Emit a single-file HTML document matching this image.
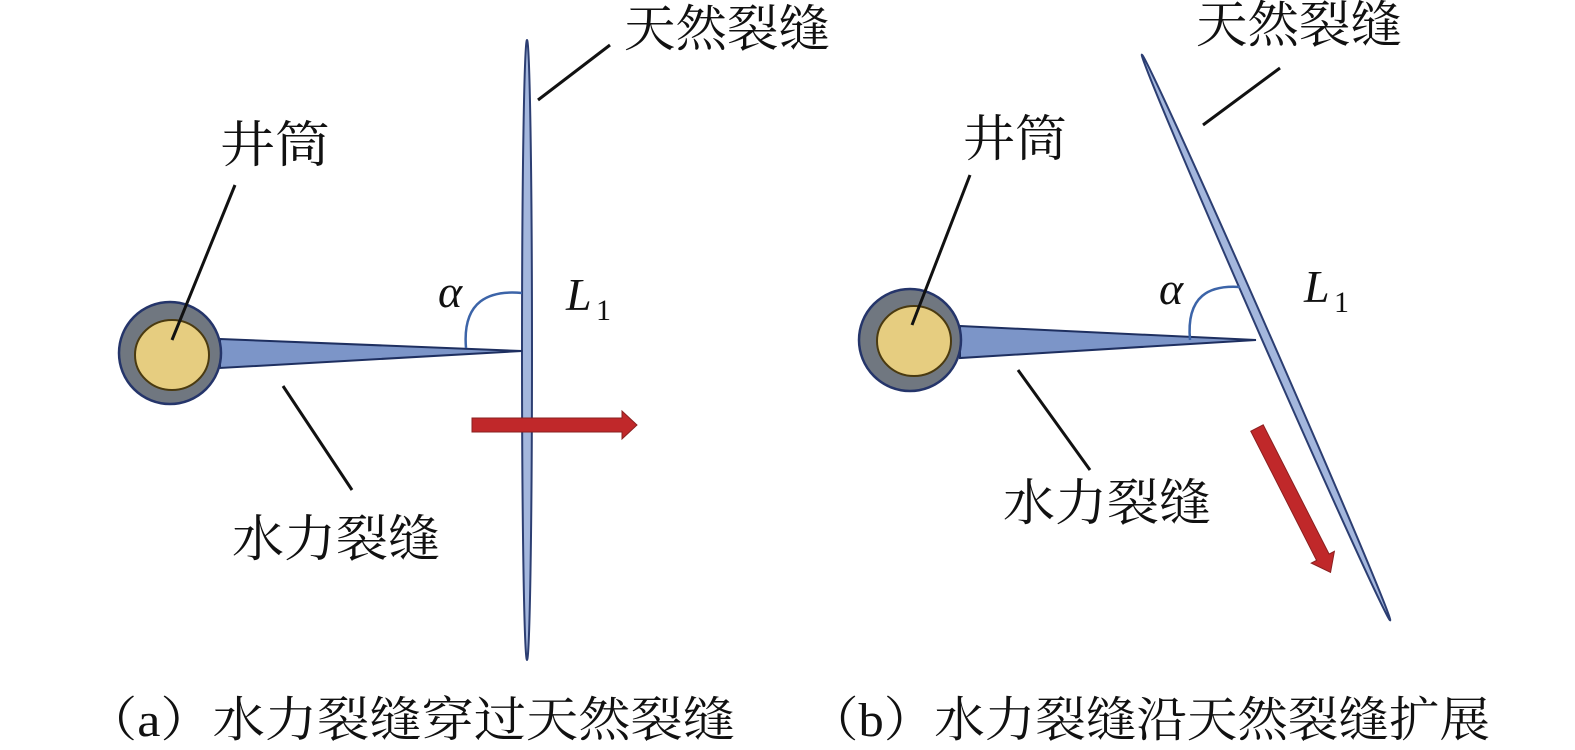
<!DOCTYPE html>
<html><head><meta charset="utf-8"><style>
html,body{margin:0;padding:0;background:#fff;}
svg{display:block}
text{font-family:"Liberation Serif","Noto Serif CJK SC","Noto Sans CJK SC",serif;fill:#111}
</style></head><body>
<svg width="1575" height="750" viewBox="0 0 1575 750" xmlns="http://www.w3.org/2000/svg">
<!-- Panel a -->
<ellipse cx="527" cy="350" rx="5" ry="310" fill="#a4b7dd" stroke="#2c3e72" stroke-width="2"/>
<polygon points="220,339 522,351 220,368" fill="#7c95c8" stroke="#1e2f60" stroke-width="2"/>
<circle cx="170" cy="353" r="51" fill="#707780" stroke="#25356a" stroke-width="2.5"/>
<ellipse cx="172" cy="355" rx="37" ry="35" fill="#e6cd80" stroke="#4a3a10" stroke-width="2"/>
<path d="M466,348 C462,300 490,290 522,293" fill="none" stroke="#3c64a8" stroke-width="2.5"/>
<polygon points="472,418 622,418 622,411 637,425 622,439 622,432 472,432" fill="#c0282a" stroke="#8a2020" stroke-width="1"/>
<line x1="235" y1="185" x2="172" y2="340" stroke="#111" stroke-width="3"/>
<line x1="538" y1="100" x2="610" y2="45" stroke="#111" stroke-width="3"/>
<line x1="283" y1="386" x2="352" y2="490" stroke="#111" stroke-width="3"/>
<text x="220" y="162" font-size="50" textLength="110" lengthAdjust="spacingAndGlyphs">井筒</text>
<text x="624" y="46" font-size="50" textLength="206" lengthAdjust="spacingAndGlyphs">天然裂缝</text>
<text x="232" y="556" font-size="50" textLength="208" lengthAdjust="spacingAndGlyphs">水力裂缝</text>
<text x="438" y="307" font-size="46" font-style="italic">α</text>
<text x="566" y="310" font-size="46" font-style="italic">L</text>
<text x="596" y="320" font-size="30">1</text>
<text x="85" y="736" font-size="48" textLength="650" lengthAdjust="spacingAndGlyphs">（a）水力裂缝穿过天然裂缝</text>
<!-- Panel b -->
<ellipse cx="1266" cy="337.5" rx="4.5" ry="309" transform="rotate(-23.7 1266 337.5)" fill="#a4b7dd" stroke="#2c3e72" stroke-width="2"/>
<polygon points="960,326 1256,340 960,358" fill="#7c95c8" stroke="#1e2f60" stroke-width="2"/>
<circle cx="910" cy="340" r="51" fill="#707780" stroke="#25356a" stroke-width="2.5"/>
<ellipse cx="914" cy="341" rx="37" ry="35" fill="#e6cd80" stroke="#4a3a10" stroke-width="2"/>
<path d="M1190,340 C1186,295 1210,285 1240,287" fill="none" stroke="#3c64a8" stroke-width="2.5"/>
<g transform="translate(1257,428) rotate(63)">
<polygon points="0,-7 145,-7 145,-13 162,0 145,13 145,7 0,7" fill="#c0282a" stroke="#8a2020" stroke-width="1"/>
</g>
<line x1="970" y1="175" x2="912" y2="325" stroke="#111" stroke-width="3"/>
<line x1="1203" y1="125" x2="1280" y2="68" stroke="#111" stroke-width="3"/>
<line x1="1018" y1="370" x2="1090" y2="470" stroke="#111" stroke-width="3"/>
<text x="963" y="156" font-size="50" textLength="104" lengthAdjust="spacingAndGlyphs">井筒</text>
<text x="1196" y="42" font-size="50" textLength="206" lengthAdjust="spacingAndGlyphs">天然裂缝</text>
<text x="1003" y="520" font-size="50" textLength="208" lengthAdjust="spacingAndGlyphs">水力裂缝</text>
<text x="1159" y="304" font-size="46" font-style="italic">α</text>
<text x="1304" y="302" font-size="46" font-style="italic">L</text>
<text x="1334" y="312" font-size="30">1</text>
<text x="808" y="736" font-size="48" textLength="682" lengthAdjust="spacingAndGlyphs">（b）水力裂缝沿天然裂缝扩展</text>
</svg>
</body></html>
